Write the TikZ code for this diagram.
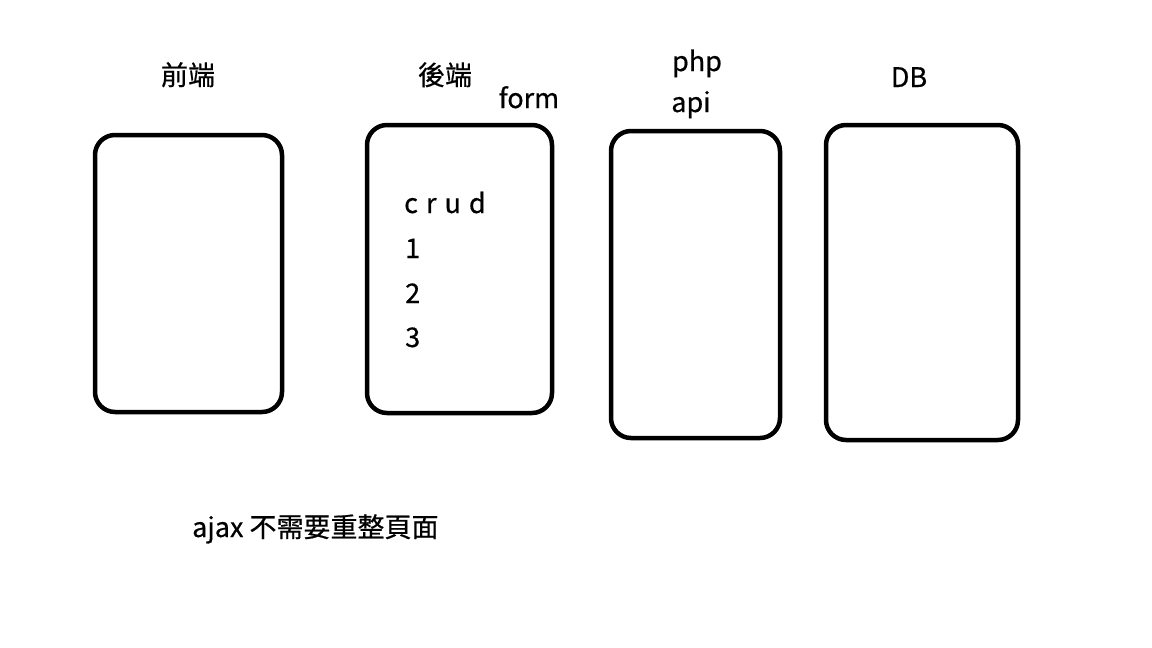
\documentclass[tikz,border=0pt]{standalone}
\usepackage{fontspec}
\setmainfont{Noto Sans CJK TC}[FakeBold=0.6]
\begin{document}
\begin{tikzpicture}[x=1pt,y=-1pt,
  panel/.style={draw=black,line width=4.5pt,rounded corners=20pt},
  lbl/.style={anchor=base,inner sep=0pt,font=\fontsize{27}{30}\selectfont},
  lbll/.style={anchor=base west,inner sep=0pt,font=\fontsize{27}{30}\selectfont}]
\useasboundingbox (0,0) rectangle (1152,648);
\draw[panel] (95,135) rectangle (282,412);
\draw[panel] (367,125) rectangle (552,413);
\draw[panel] (611,131) rectangle (780,438);
\draw[panel] (826,125) rectangle (1018,440);
\node[lbl] (fe) at (188,85) {前端};
\node[lbl] (be) at (445,85) {後端};
\node[lbl] (form) at (529,108) {form};
\node[lbl] (php) at (697,71) {php};
\node[lbl] (api) at (691,112) {api};
\node[lbl] (db) at (909,87) {DB};
\node[lbll] (crud) at (404,213) {c\hspace{2pt} r\hspace{2pt} u\hspace{2pt} d};
\node[lbll] (one) at (405,258) {1};
\node[lbll] (two) at (405,303) {2};
\node[lbll] (three) at (405,347) {3};
\node[lbll] (ajax) at (192,537) {ajax 不需要重整頁面};
\end{tikzpicture}
\end{document}
